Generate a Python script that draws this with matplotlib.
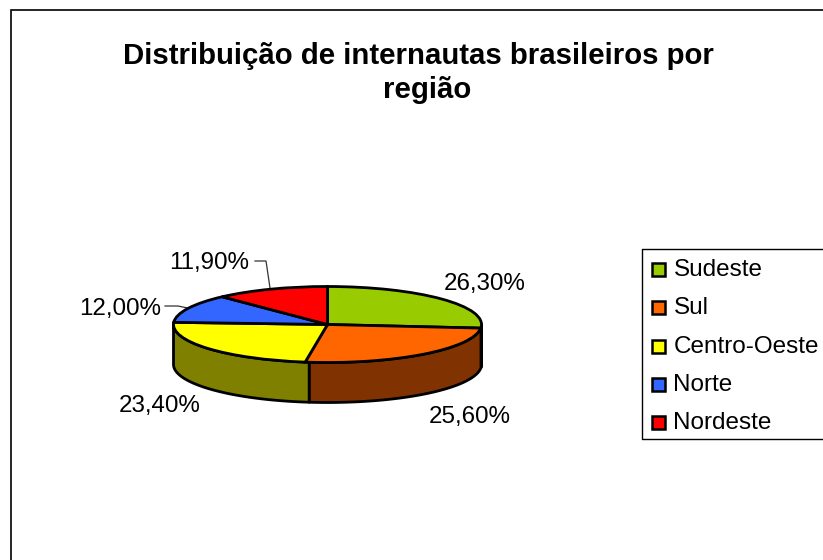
# -*- coding: utf-8 -*-
import numpy as np
import matplotlib as mpl

mpl.use("Agg")
import matplotlib.pyplot as plt
from matplotlib.patches import Polygon, Rectangle

mpl.rcParams.update({"font.family": ["Liberation Sans", "DejaVu Sans"]})

regions = ["Sudeste", "Sul", "Centro-Oeste", "Norte", "Nordeste"]
shares = [26.3, 25.6, 23.4, 12.0, 11.9]
share_labels = ["26,30%", "25,60%", "23,40%", "12,00%", "11,90%"]
top_colors = ["#99cc00", "#ff6600", "#ffff00", "#3366ff", "#ff0000"]
wall_colors = ["#4d6600", "#803300", "#808000", "#1a3380", "#800000"]
title_lines = ["Distribuição de internautas brasileiros por", "região"]

W, H = 823, 560
CX, CY = 327.5, 324.5
RX, RY = 154, 38
DEPTH = 40

fig = plt.figure(figsize=(W / 100, H / 100), dpi=100, facecolor="white")
ax = fig.add_axes([0, 0, 1, 1])
ax.set_xlim(0, W)
ax.set_ylim(H, 0)
ax.axis("off")

# page frame, only top and left show up in the crop
ax.plot([11, 11, W], [H, 10, 10], color="black", lw=1.2, solid_joinstyle="miter")

ax.text(418.5, 56, title_lines[0], ha="center", va="center", fontsize=21.2, fontweight="bold")
ax.text(427, 90, title_lines[1], ha="center", va="center", fontsize=21.2, fontweight="bold")

# pie top lives in its own axes, squashed to the ellipse
pie_ax = fig.add_axes([(CX - RX) / W, 1 - (CY + RY + DEPTH) / H, 2 * RX / W, (2 * RY + DEPTH) / H])
d = DEPTH / RY

# side walls, only the front half of the rim is visible
edges = np.cumsum([0] + shares) / 100 * 2 * np.pi
for i in range(len(shares)):
    a0 = max(edges[i], np.pi / 2)
    a1 = min(edges[i + 1], 3 * np.pi / 2)
    if a1 <= a0:
        continue
    t = np.linspace(a0, a1, 60)
    x, y = np.sin(t), np.cos(t)
    pts = np.r_[np.c_[x, y], np.c_[x[::-1], y[::-1] - d]]
    pie_ax.add_patch(Polygon(pts, closed=True, facecolor=wall_colors[i], edgecolor="black",
                             lw=2.0, clip_on=False, joinstyle="round"))

pie_ax.pie(shares, colors=top_colors, startangle=90, counterclock=False, radius=1,
           wedgeprops={"edgecolor": "black", "linewidth": 2.0, "clip_on": False})
pie_ax.set_aspect("auto")
pie_ax.set_xlim(-1, 1)
pie_ax.set_ylim(-1 - d, 1)
pie_ax.axis("off")

# data labels
label_x = [485, 470, 160, 120.5, 209.5]
label_y = [284, 417, 406, 309, 263]
for s, lx, ly in zip(share_labels, label_x, label_y):
    ax.text(lx, ly, s, ha="center", va="center", fontsize=17.4, color="black")

# leader lines
ax.plot([165, 178, 190], [306, 306, 308.5], color="#333333", lw=0.9)
ax.plot([255, 266, 270], [261, 261, 288], color="#333333", lw=0.9)

# legend
ax.plot([W, 642, 642, W], [249, 249, 439, 439], color="black", lw=1.0)
legend_y = [269, 307, 346, 384, 422]
for name, col, ly in zip(regions, top_colors, legend_y):
    ax.add_patch(Rectangle((652, ly - 6.5), 13, 13, facecolor=col, edgecolor="black", lw=1.8))
    ax.text(673.5, ly + 1, name, ha="left", va="center", fontsize=17.5, color="black")

fig.savefig("out.png", dpi=100, facecolor="white")
